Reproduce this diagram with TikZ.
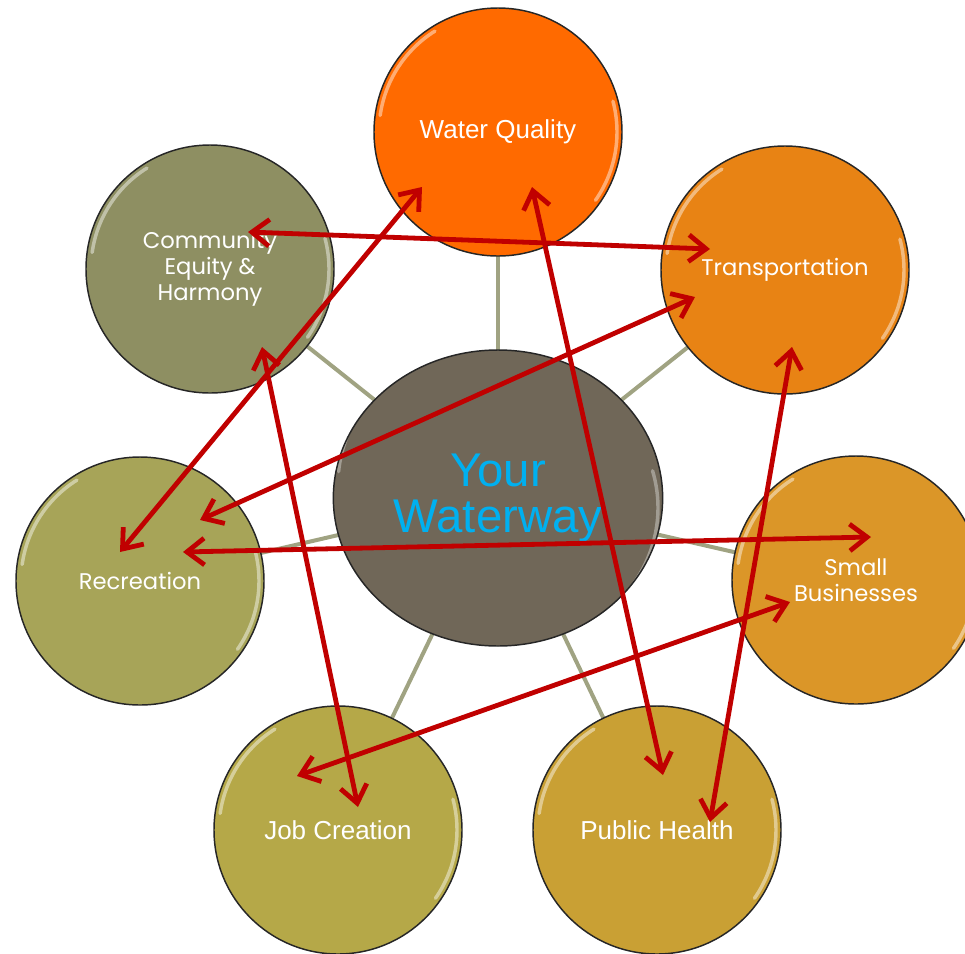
\documentclass[tikz,border=0pt]{standalone}
\usepackage{fontspec}
\setmainfont{Liberation Sans}
\newfontfamily\gothic{Poppins}
\usepackage{tikz}
\usetikzlibrary{shapes.geometric,arrows.meta,backgrounds}

\definecolor{wqcol}{RGB}{255,106,0}
\definecolor{trcol}{RGB}{232,131,20}
\definecolor{sbcol}{RGB}{219,150,40}
\definecolor{phcol}{RGB}{201,160,52}
\definecolor{jccol}{RGB}{181,168,72}
\definecolor{rccol}{RGB}{167,164,88}
\definecolor{cecol}{RGB}{142,143,98}
\definecolor{wwcol}{RGB}{112,103,88}
\definecolor{spokecol}{RGB}{160,163,130}
\definecolor{linkred}{RGB}{192,0,0}
\definecolor{wwtext}{RGB}{0,176,240}

\tikzset{
  gloss/.style={white,opacity=.45,line width=2.6pt,line cap=round},
  bubble/.style={circle,draw=black!85,line width=1.1pt,fill=#1,minimum size=186pt,inner sep=0pt,
    text=white,align=center,font=\fontsize{19.5}{19.5}\selectfont,
    path picture={
      \draw[gloss] ([shift={(122:119)}]path picture bounding box.center) arc[start angle=122,end angle=172,radius=119];
      \draw[gloss] ([shift={(-35:119)}]path picture bounding box.center) arc[start angle=-35,end angle=15,radius=119];
    }},
  gothtext/.style={font=\gothic\fontsize{17}{19.5}\selectfont},
  spoke/.style={draw=spokecol,line width=3pt},
  link/.style={draw=linkred,line width=3.6pt,{Straight Barb[length=13pt,width=20pt]}-{Straight Barb[length=13pt,width=20pt]}},
}

\begin{document}
\begin{tikzpicture}[x=0.75pt,y=0.75pt,yscale=-1,xscale=1]
    \useasboundingbox (0,0) rectangle (965,954);

    %Center: Ellipse
    \node [ellipse,draw=black!85,line width=1.1pt,fill=wwcol,minimum width=247pt,minimum height=222pt,inner sep=0pt,
      text=wwtext,align=center,font=\fontsize{35.5}{35}\selectfont,
      path picture={
        \draw[gloss,opacity=.35] ([shift={(125:160)}]path picture bounding box.center) arc[x radius=160,y radius=143,start angle=125,end angle=175];
        \draw[gloss,opacity=.35] ([shift={(-35:160)}]path picture bounding box.center) arc[x radius=160,y radius=143,start angle=-35,end angle=15];
      }] (way) at (498,498) {Your\\Waterway};

    %Outer circles
    \node [bubble=wqcol] (wq) at (498,132) {Water Quality};
    \node [bubble=trcol,gothtext] (trans) at (785,270) {Transportation};
    \node [bubble=cecol,gothtext] (comm) at (210,269) {Community\\Equity \&\\Harmony};
    \node [bubble=rccol,gothtext] (recr) at (140,581) {Recreation};
    \node [bubble=sbcol,gothtext] (smb) at (856,580) {Small\\Businesses};
    \node [bubble=jccol] (job) at (338,830) {Job Creation};
    \node [bubble=phcol] (pub) at (657,830) {Public Health};

    %Spokes
    \begin{scope}[on background layer]
    \foreach \n in {wq,trans,comm,recr,smb,job,pub}
      \draw [spoke] (way.center) -- (\n.center);
    \end{scope}

    %Arrow ends
    \coordinate (comm-a) at ([shift={(38,-37)}]comm.center);
    \coordinate (comm-b) at ([shift={(52,78)}]comm.center);
    \coordinate (trans-a) at ([shift={(-75,-21)}]trans.center);
    \coordinate (trans-b) at ([shift={(-90,27)}]trans.center);
    \coordinate (trans-c) at ([shift={(7,77)}]trans.center);
    \coordinate (wq-a) at ([shift={(-76,55)}]wq.center);
    \coordinate (wq-b) at ([shift={(34,55)}]wq.center);
    \coordinate (recr-a) at ([shift={(-20,-29)}]recr.center);
    \coordinate (recr-b) at ([shift={(60,-61)}]recr.center);
    \coordinate (recr-c) at ([shift={(43,-29)}]recr.center);
    \coordinate (smb-a) at ([shift={(15,-43)}]smb.center);
    \coordinate (smb-b) at ([shift={(-66,22)}]smb.center);
    \coordinate (pub-a) at ([shift={(6,-55)}]pub.center);
    \coordinate (pub-b) at ([shift={(53,-8)}]pub.center);
    \coordinate (job-a) at ([shift={(20,-23)}]job.center);
    \coordinate (job-b) at ([shift={(-41,-54)}]job.center);

    %Links
    \draw [link] (comm-a) -- (trans-a);
    \draw [link] (wq-a) -- (recr-a);
    \draw [link] (trans-b) -- (recr-b);
    \draw [link] (recr-c) -- (smb-a);
    \draw [link] (wq-b) -- (pub-a);
    \draw [link] (comm-b) -- (job-a);
    \draw [link] (trans-c) -- (pub-b);
    \draw [link] (smb-b) -- (job-b);
\end{tikzpicture}
\end{document}
